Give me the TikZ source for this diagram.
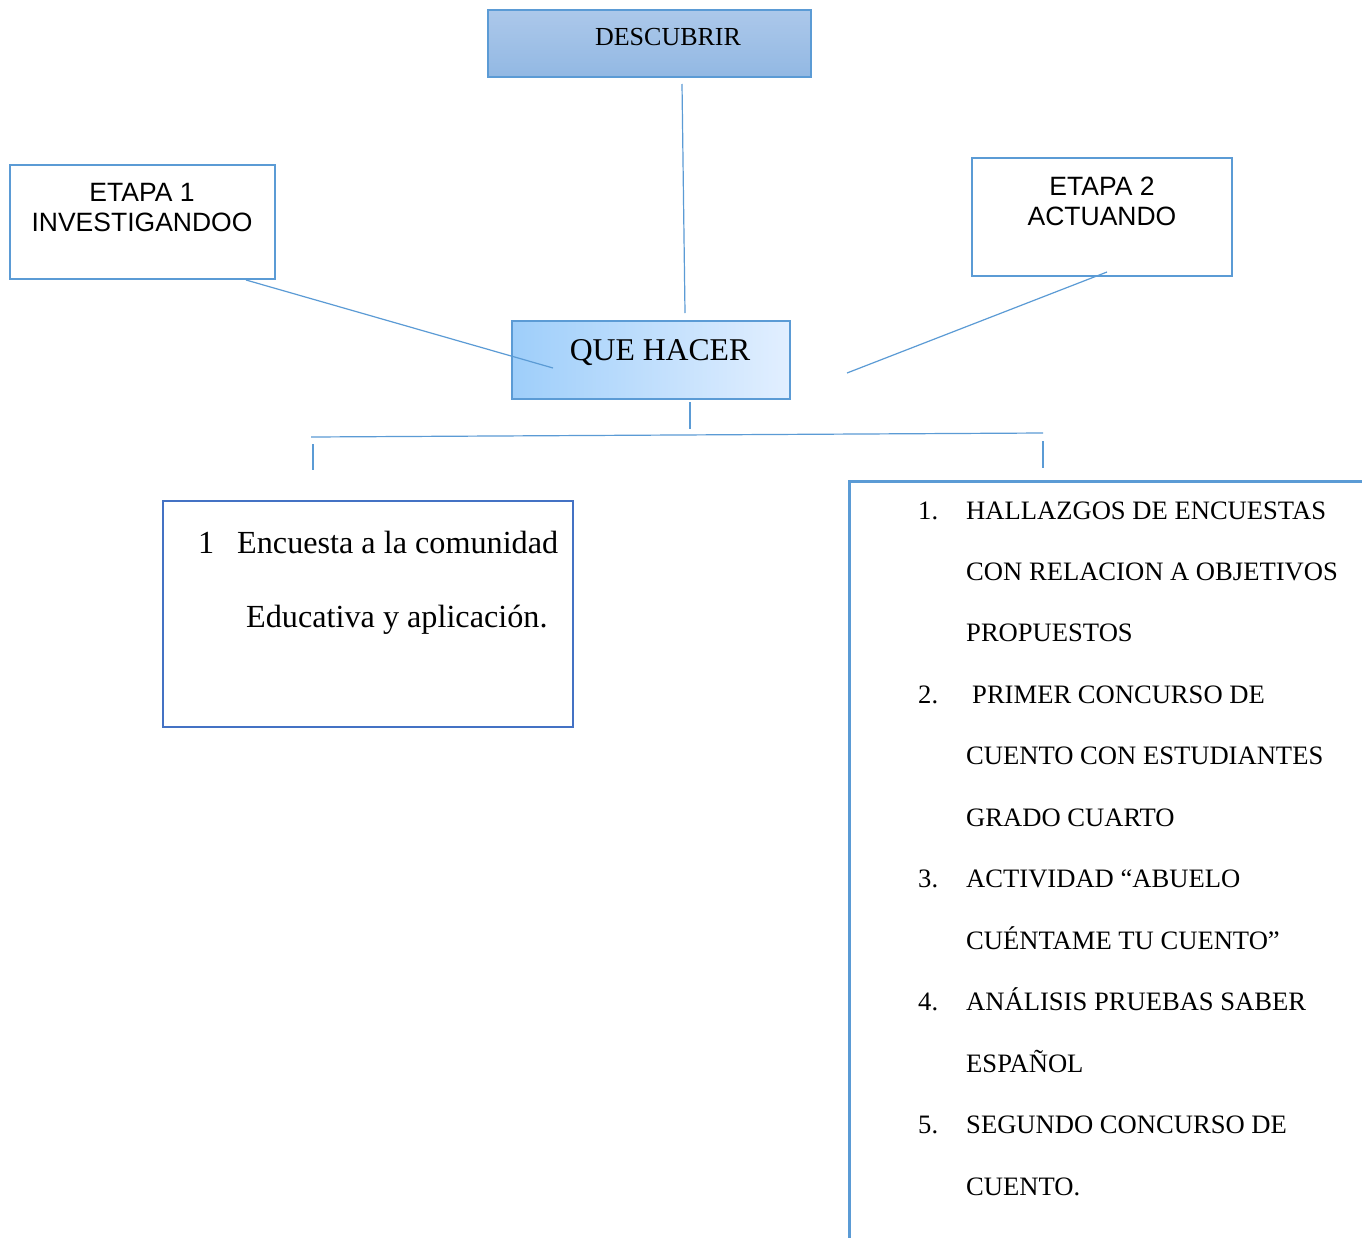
\documentclass[tikz,border=0pt]{standalone}
\usepackage{fontspec}
\setmainfont{Liberation Serif}
\newfontfamily\arialf{Liberation Sans}
\definecolor{lineblue}{RGB}{91,155,213}
\definecolor{darkblue}{RGB}{68,114,196}
\definecolor{topA}{RGB}{172,200,234}
\definecolor{topB}{RGB}{146,184,227}
\definecolor{qL}{RGB}{158,206,250}
\definecolor{qR}{RGB}{226,239,255}
\tikzset{
  conn/.style={draw=lineblue, line width=1.2pt},
  box/.style={draw=lineblue, rectangle, inner sep=0pt},
  txt/.style={inner sep=0pt, text=black},
  serif26/.style={font=\fontsize{26}{30}\selectfont},
  serif32/.style={font=\fontsize{31.7}{36}\selectfont},
  serifenc/.style={font=\fontsize{32.2}{36}\selectfont},
  sans26/.style={font=\arialf\fontsize{26.5}{30}\selectfont},
  list/.style={txt, anchor=base west, font=\fontsize{26.6}{30}\selectfont},
}
\begin{document}
\begin{tikzpicture}[x=1pt,y=-1pt]
\useasboundingbox (0,0) rectangle (1362,1237);
\clip (0,0) rectangle (1362,1237);
\fill[white] (0,0) rectangle (1362,1237);

% boxes
\node[box, line width=1.2pt, top color=topA, bottom color=topB, minimum width=323pt, minimum height=67pt] (desc) at (649.5,43.5) {};
\node[box, line width=1.2pt, left color=qL, right color=qR, minimum width=278pt, minimum height=78pt] (que) at (651,360) {};
\node[box, line width=2.6pt, minimum width=265pt, minimum height=114pt] (et1) at (142.5,222) {};
\node[box, line width=2.6pt, minimum width=260pt, minimum height=118pt] (et2) at (1102,217) {};
\node[box, draw=darkblue, line width=2.6pt, minimum width=410pt, minimum height=226pt] (enc) at (368,614) {};
\node[box, line width=3pt, minimum width=522pt, minimum height=778pt] (lst) at (1110,870) {};

% texts
\node[txt, serif26, anchor=base] (tdesc) at (668,45) {DESCUBRIR};
\node[txt, serif32, anchor=base] (tque) at (660,360) {QUE HACER};
\node[txt, sans26, anchor=base] (te1a) at (142,201.5) {ETAPA 1};
\node[txt, sans26, anchor=base] (te1b) at (142,231.5) {INVESTIGANDOO};
\node[txt, sans26, anchor=base] (te2a) at (1102,195.5) {ETAPA 2};
\node[txt, sans26, anchor=base] (te2b) at (1102,225.5) {ACTUANDO};
\node[txt, serifenc, anchor=base west] (tencn) at (198,553) {1};
\node[txt, serifenc, anchor=base west] (tenca) at (237,553) {Encuesta a la comunidad};
\node[txt, serifenc, anchor=base west] (tencb) at (246,627) {Educativa y aplicación.};

% list
\node[list] (n1) at (918,519) {1.};
\node[list] (l1) at (966,519) {HALLAZGOS DE ENCUESTAS};
\node[list] (l2) at (966,580.5) {CON RELACION A OBJETIVOS};
\node[list] (l3) at (966,641.9) {PROPUESTOS};
\node[list] (n2) at (918,703.4) {2.};
\node[list] (l4) at (972,703.4) {PRIMER CONCURSO DE};
\node[list] (l5) at (966,764.8) {CUENTO CON ESTUDIANTES};
\node[list] (l6) at (966,826.3) {GRADO CUARTO};
\node[list] (n3) at (918,887.7) {3.};
\node[list] (l7) at (966,887.7) {ACTIVIDAD “ABUELO};
\node[list] (l8) at (966,949.2) {CUÉNTAME TU CUENTO”};
\node[list] (n4) at (918,1010.6) {4.};
\node[list] (l9) at (966,1010.6) {ANÁLISIS PRUEBAS SABER};
\node[list] (l10) at (966,1072.1) {ESPAÑOL};
\node[list] (n5) at (918,1133.5) {5.};
\node[list] (l11) at (966,1133.5) {SEGUNDO CONCURSO DE};
\node[list] (l12) at (966,1195) {CUENTO.};

% connector end points
\coordinate (d1) at (682,84);
\coordinate (d2) at (685,313);
\coordinate (e1a) at (246,280);
\coordinate (e1b) at (553,368);
\coordinate (e2a) at (1107,272);
\coordinate (e2b) at (847,373);
\coordinate (q1) at (690,402);
\coordinate (q2) at (690,429);
\coordinate (hL) at (311,437);
\coordinate (hR) at (1043,433);
\coordinate (vL1) at (313,444);
\coordinate (vL2) at (313,470);
\coordinate (vR1) at (1043,441);
\coordinate (vR2) at (1043,468);

\draw[conn] (d1) -- (d2);
\draw[conn] (e1a) -- (e1b);
\draw[conn] (e2a) -- (e2b);
\draw[conn] (q1) -- (q2);
\draw[conn] (hL) -- (hR);
\draw[conn] (vL1) -- (vL2);
\draw[conn] (vR1) -- (vR2);
\end{tikzpicture}
\end{document}
